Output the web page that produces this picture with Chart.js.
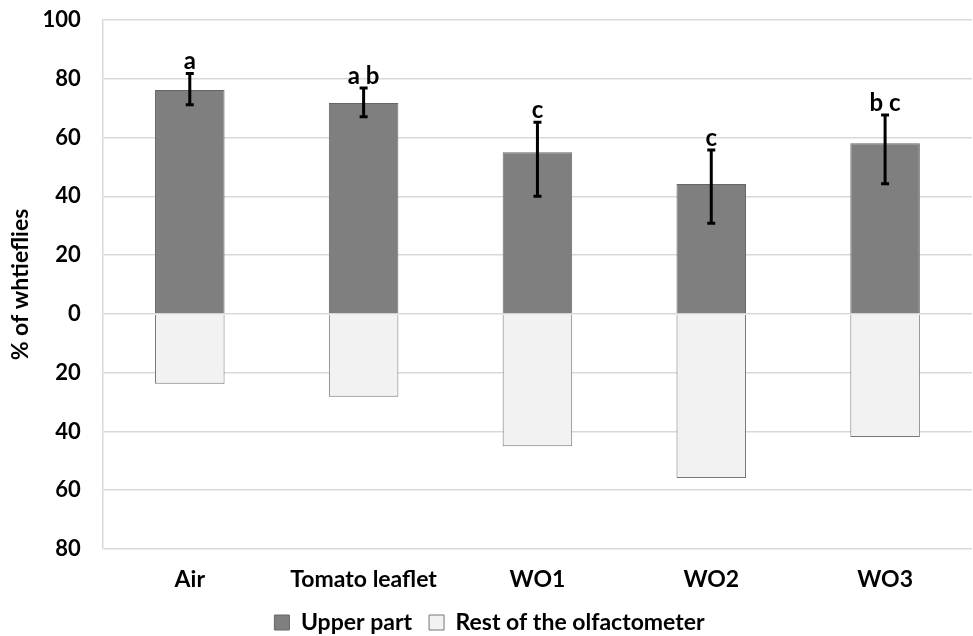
<!DOCTYPE html>
<html>
<head>
<meta charset="utf-8">
<script src="https://cdn.jsdelivr.net/npm/chart.js@4.4.1/dist/chart.umd.min.js"></script>
<style>
  html, body { margin: 0; padding: 0; background: #fff; }
  #wrap { width: 973px; height: 636px; }
</style>
</head>
<body>
<div id="wrap"><canvas id="myChart" width="973" height="636"></canvas></div>
<script>
'use strict'
// data
let categories = ['Air', 'Tomato leaflet', 'WO1', 'WO2', 'WO3'];
let upperPart = [76.2, 71.8, 55.0, 44.2, 58.1];
let restPart = [23.8, 28.2, 45.0, 55.8, 41.9];      // drawn downwards
let errPlus = [5.6, 5.1, 10.2, 11.6, 9.6];
let errMinus = [5.0, 4.7, 15.0, 13.4, 13.8];
let letters = ['a', 'a b', 'c', 'c', 'b c'];
let yTicks = [100, 80, 60, 40, 20, 0, -20, -40, -60, -80];

let fontName = 'Lato, "Open Sans", sans-serif';

// error bars + significance letters on the upper part
let errorBars = {
  id: 'errorBars',
  afterDatasetsDraw(chart) {
    let ctx = chart.ctx;
    let y = chart.scales.y;
    let meta = chart.getDatasetMeta(0);
    ctx.save();
    ctx.strokeStyle = '#000';
    ctx.lineWidth = 3;
    for (let i = 0; i < meta.data.length; i++) {
      let x = meta.data[i].x;
      let top = y.getPixelForValue(upperPart[i] + errPlus[i]);
      let bot = y.getPixelForValue(upperPart[i] - errMinus[i]);
      ctx.beginPath();
      ctx.moveTo(x, top); ctx.lineTo(x, bot);
      ctx.moveTo(x - 4, top); ctx.lineTo(x + 4, top);
      ctx.moveTo(x - 4, bot); ctx.lineTo(x + 4, bot);
      ctx.stroke();
      ctx.fillStyle = '#000';
      ctx.font = 'bold 24px ' + fontName;
      ctx.textAlign = 'center';
      ctx.textBaseline = 'alphabetic';
      ctx.fillText(letters[i], x, top - 4);
    }
    ctx.restore();
  }
};

let ctx = document.getElementById('myChart').getContext('2d');
let chart = new Chart(ctx, {
  type: 'bar',
  data: {
    labels: categories,
    datasets: [
      {
        label: 'Upper part',
        backgroundColor: '#7f7f7f',
        borderColor: '#666666',
        borderWidth: 1,
        data: upperPart
      },
      {
        label: 'Rest of the olfactometer',
        backgroundColor: '#f2f2f2',
        borderColor: '#767676',
        borderWidth: 1,
        data: restPart.map(v => -v)
      }
    ]
  },
  options: {
    responsive: false,
    animation: false,
    layout: { padding: { top: 20, right: 1, left: 7, bottom: -6 } },
    datasets: { bar: { barPercentage: 1, categoryPercentage: 0.4 } },
    scales: {
      x: {
        stacked: true,
        grid: { display: false, drawTicks: false },
        border: { display: false },
        ticks: { color: '#000', font: { family: fontName, size: 23, weight: 'bold', lineHeight: 1.13 }, padding: 18 },
        afterFit: axis => { axis.height = 45; }
      },
      y: {
        stacked: true,
        min: -80,
        max: 100,
        afterBuildTicks: axis => { axis.ticks = yTicks.map(v => ({ value: v })); },
        grid: { color: '#d9d9d9', lineWidth: 1.5, drawTicks: true, tickLength: 22, tickColor: 'rgba(0,0,0,0)' },
        border: { display: true, color: '#d9d9d9', width: 1.5 },
        ticks: {
          color: '#000',
          padding: 0,
          font: { family: fontName, size: 22, weight: 'bold' },
          callback: v => Math.abs(v)
        },
        title: {
          display: true,
          text: '% of whtieflies',
          color: '#000',
          font: { family: fontName, size: 23, weight: 'bold' },
          padding: { top: 0, bottom: 8 }
        }
      }
    },
    plugins: {
      legend: {
        position: 'bottom',
        maxHeight: 48,
        labels: {
          color: '#000',
          boxWidth: 15,
          boxHeight: 15,
          padding: 17,
          font: { family: fontName, size: 23, weight: 'bold', lineHeight: 1 }
        }
      },
      tooltip: { enabled: false }
    }
  },
  plugins: [errorBars]
});
</script>
</body>
</html>
